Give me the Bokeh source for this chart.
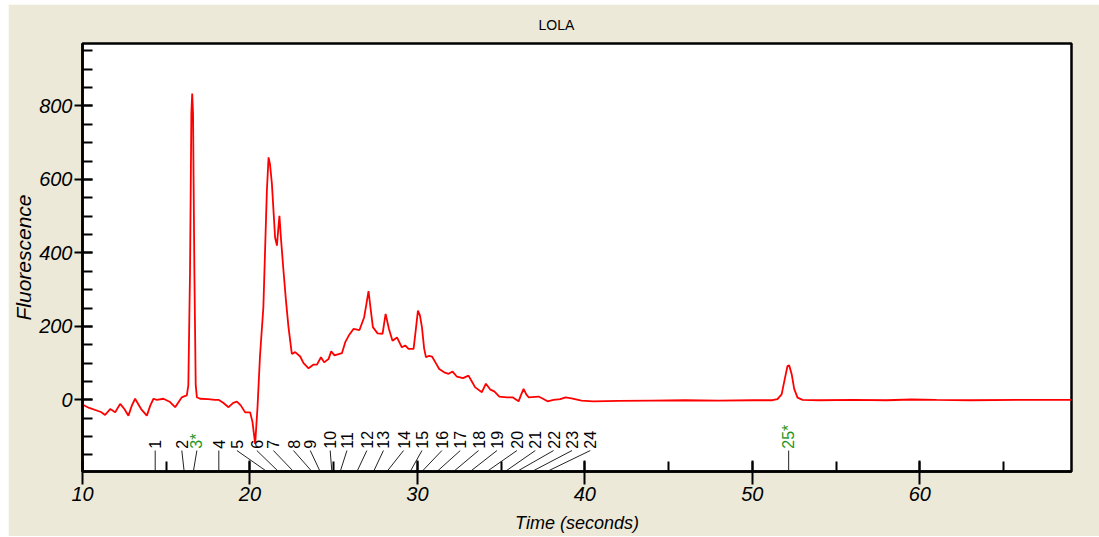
from math import pi
from bokeh.plotting import figure
from bokeh.models import Range1d, SingleIntervalTicker, BoxAnnotation, ColumnDataSource
from bokeh.core.properties import value
from bokeh.embed import file_html
from bokeh.resources import INLINE

# ---- data ----
time_s = [10.0, 10.05, 10.4, 10.85, 11.1, 11.35, 11.5, 11.65, 11.8, 11.95, 12.1, 12.25, 12.5, 12.74,
          12.95, 13.14, 13.5, 13.84, 14.05, 14.24, 14.44, 14.83, 15.2, 15.53, 15.75, 15.93, 16.1, 16.23,
          16.32, 16.42, 16.5, 16.55, 16.6, 16.68, 16.76, 16.83, 17.02, 17.5, 17.9, 18.12, 18.4, 18.72,
          19.0, 19.22, 19.45, 19.71, 20.01, 20.15, 20.31, 20.45, 20.6, 20.8, 21.01, 21.11, 21.2, 21.31,
          21.5, 21.61, 21.7, 21.76, 21.85, 22.0, 22.15, 22.3, 22.5, 22.7, 23.0, 23.2, 23.5, 23.8, 24.0,
          24.24, 24.43, 24.69, 24.85, 25.05, 25.49, 25.69, 25.9, 26.18, 26.54, 26.82, 26.95, 27.08, 27.2,
          27.34, 27.62, 27.92, 28.1, 28.3, 28.51, 28.78, 29.07, 29.27, 29.47, 29.77, 29.9, 30.03, 30.15,
          30.27, 30.4, 30.51, 30.7, 30.87, 31.1, 31.3, 31.6, 31.86, 32.1, 32.36, 32.72, 33.05, 33.25,
          33.45, 33.85, 34.09, 34.35, 34.59, 34.89, 35.35, 35.68, 36.04, 36.2, 36.34, 36.5, 36.64, 37.23,
          37.5, 37.77, 38.13, 38.53, 38.85, 39.2, 39.8, 40.5, 42.0, 44.0, 46.0, 48.0, 50.0, 51.2, 51.5,
          51.75, 51.95, 52.1, 52.2, 52.35, 52.5, 52.7, 53.0, 54.0, 56.0, 58.0, 59.5, 61.0, 63.0, 66.0, 69.06]
fluorescence = [-10, -14, -22, -29, -33, -41, -33, -25, -29, -34, -22, -11, -25, -43,
                -15, 3, -25, -43, -15, 3, 0, 3, -5, -20, -5, 7, 10, 12,
                40, 350, 780, 834, 780, 350, 40, 7, 3, 2, 0, 0, -8, -20,
                -8, -5, -15, -34, -34, -60, -120, -20, 120, 252, 570, 660, 640, 588,
                442, 420, 470, 501, 440, 352, 270, 198, 125, 130, 118, 100, 86, 96, 96,
                116, 102, 111, 132, 121, 127, 157, 175, 193, 190, 225, 260, 296, 250,
                198, 181, 180, 234, 193, 161, 170, 143, 148, 139, 139, 190, 243, 230,
                198, 140, 116, 120, 118, 100, 84, 75, 71, 77, 63, 59, 66, 50,
                34, 21, 44, 28, 23, 9, 7, 7, -4, 15, 30, 15, 7, 9,
                3, -4, 0, 2, 7, 4, -2, -4, -3, -2, -1, -2, -1, -1, 2,
                15, 60, 92, 94, 70, 30, 6, 0, -1, 0, -1, 1, 0, -1, 0, 0]

peak_ids = ["1", "2", "3*", "4", "5", "6", "7", "8", "9", "10", "11", "12", "13", "14", "15",
            "16", "17", "18", "19", "20", "21", "22", "23", "24", "25*"]
peak_times = [14.34, 16.07, 16.62, 18.14, 21.01, 21.70, 22.60, 23.70, 24.19, 24.89, 25.39, 26.39,
              27.38, 28.18, 29.57, 30.27, 31.17, 32.16, 33.15, 34.15, 35.24, 35.94, 36.84, 37.74, 52.17]
label_times = [14.34, 15.93, 16.83, 18.14, 19.22, 20.41, 21.40, 22.60, 23.60, 24.79, 25.79, 26.98,
               27.97, 29.17, 30.27, 31.46, 32.56, 33.65, 34.75, 35.94, 37.04, 38.13, 39.23, 40.32, 52.17]
standard_peaks = ["3*", "25*"]
title_text = "LOLA"

x_start, x_end = 10.0, 69.06
y_start, y_end = -195, 970

FONT = "Liberation Sans"
BEIGE = "#ECE9D8"

fw, fh = 989, 428
p = figure(frame_width=fw, frame_height=fh,
           x_range=Range1d(x_start - 0.001, x_end), y_range=Range1d(y_start, y_end),
           output_backend="svg", toolbar_location=None,
           min_border_left=74, min_border_right=28, min_border_top=39, min_border_bottom=65,
           background_fill_color="white", border_fill_color=BEIGE,
           outline_line_color="black", outline_line_width=2.5)
p.margin = (4, 0, 0, 8)

p.title.text = title_text
p.title.align = "left"
p.title.offset = 456
p.title.standoff = 21
p.title.text_font = FONT
p.title.text_font_size = "14px"
p.title.text_font_style = "normal"
p.title.text_color = "black"

p.grid.visible = False

xa = p.xaxis[0]
xa.ticker = SingleIntervalTicker(interval=10, num_minor_ticks=2)
xa.axis_label = "Time (seconds)"
ya = p.yaxis[0]
ya.ticker = SingleIntervalTicker(interval=200, num_minor_ticks=4)
ya.axis_label = "Fluorescence"

for ax in (xa, ya):
    ax.axis_line_color = "black"
    ax.axis_line_width = 2.5
    ax.major_tick_line_color = "black"
    ax.minor_tick_line_color = "black"
    ax.major_tick_line_width = 2
    ax.minor_tick_line_width = 2
    ax.minor_tick_out = 0
    ax.minor_tick_in = 10
    ax.major_label_text_font = FONT
    ax.major_label_text_font_style = "italic"
    ax.major_label_text_font_size = "20px"
    ax.major_label_text_color = "black"
    ax.axis_label_text_font = FONT
    ax.axis_label_text_font_style = "italic"
    ax.axis_label_text_color = "black"

xa.major_tick_in = 11
xa.major_tick_out = 13
xa.major_label_standoff = 2
xa.axis_label_text_font_size = "18px"
xa.axis_label_standoff = 9
ya.major_tick_in = 10
ya.major_tick_out = 8
ya.major_label_standoff = 2
ya.axis_label_text_font_size = "21px"
ya.axis_label_standoff = 1

sx = (x_end - x_start) / fw   # data units per pixel
sy = (y_end - y_start) / fh

# drop shadow of the plot frame (5 px, grey)
p.add_layout(BoxAnnotation(left=x_end + 1 * sx, right=x_end + 6 * sx,
                           top=y_end - 6 * sy, bottom=y_start - 6 * sy,
                           fill_color="#808080", fill_alpha=1, line_alpha=0, level="underlay"))
p.add_layout(BoxAnnotation(left=x_start + 6 * sx, right=x_end + 6 * sx,
                           top=y_start - 1 * sy, bottom=y_start - 6 * sy,
                           fill_color="#808080", fill_alpha=1, line_alpha=0, level="underlay"))

# trace
p.line(time_s, fluorescence, line_color="#FF0000", line_width=1.8)

# peak labels with leader lines
lab_colors = ["#1E961E" if pid in standard_peaks else "black" for pid in peak_ids]
src = ColumnDataSource(dict(lx=label_times, px=peak_times, pid=peak_ids, col=lab_colors))
p.segment(x0="lx", y0=-138, x1="px", y1=y_start, source=src, line_color="#222222", line_width=1)
p.text(x="lx", y=-133, text="pid", source=src, angle=pi / 2, text_align="left",
       text_baseline="middle", text_font=value(FONT), text_font_size="16px", text_color="col")

open("out.html", "w").write(file_html(p, INLINE))
